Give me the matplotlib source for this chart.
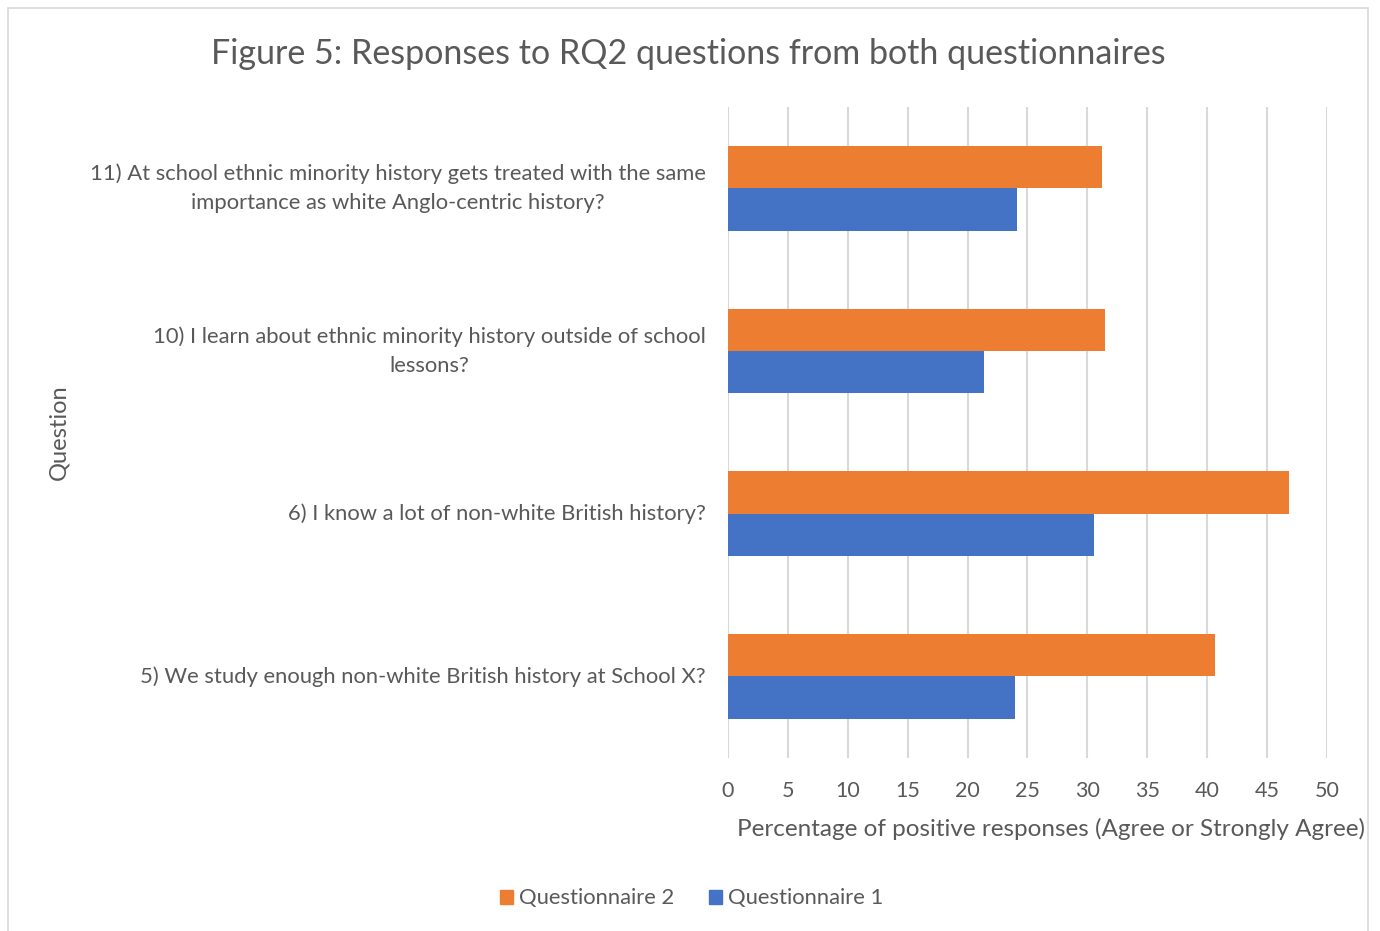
import matplotlib
matplotlib.use('Agg')
import matplotlib.pyplot as plt
from matplotlib.patches import Rectangle, Patch
import numpy as np

plt.rcParams['font.family'] = ['Lato', 'DejaVu Sans']

questions = ['5) We study enough non-white British history at School X?',
             '6) I know a lot of non-white British history?',
             '10) I learn about ethnic minority history outside of school\nlessons?',
             '11) At school ethnic minority history gets treated with the same\nimportance as white Anglo-centric history?']
q2_values = [40.65, 46.8, 31.5, 31.2]
q1_values = [24.0, 30.55, 21.4, 24.1]
ticks = [0, 5, 10, 15, 20, 25, 30, 35, 40, 45, 50]

orange = '#ED7D31'
blue = '#4472C4'
grey_text = '#595959'

fig = plt.figure(figsize=(13.8, 9.31), dpi=100)
ax = fig.add_axes([0.5275, 0.186, 0.4341, 0.699])

y = np.arange(len(questions))
h = 0.26
ax.barh(y + h / 2, q2_values, height=h, color=orange, label='Questionnaire 2', zorder=3)
ax.barh(y - h / 2, q1_values, height=h, color=blue, label='Questionnaire 1', zorder=3)

ax.set_xlim(0, 50)
ax.set_ylim(-0.5, 3.5)
ax.set_xticks(ticks)
ax.xaxis.grid(True, color='#D9D9D9', linewidth=1.5, zorder=0)
for s in ax.spines.values():
    s.set_visible(False)
ax.tick_params(axis='both', length=0)
ax.tick_params(axis='x', labelsize=15.5, labelcolor=grey_text, pad=17)
ax.set_yticks(y)
ax.set_yticklabels(questions, fontsize=15.8, color=grey_text, multialignment='center',
                   linespacing=1.55, va='center')
ax.tick_params(axis='y', pad=16)

fig.text(0.534, 0.11, 'Percentage of positive responses (Agree or Strongly Agree)',
         fontsize=17.5, color=grey_text, ha='left', va='center')
fig.text(0.043, 0.536, 'Question', fontsize=17, color=grey_text, rotation=90,
         ha='center', va='center')
fig.text(0.499, 0.942, 'Figure 5: Responses to RQ2 questions from both questionnaires',
         fontsize=24.5, color=grey_text, ha='center', va='center')

handles = [Patch(color=orange, label='Questionnaire 2'), Patch(color=blue, label='Questionnaire 1')]
fig.legend(handles=handles, loc='center', bbox_to_anchor=(0.501, 0.035), ncol=2, frameon=False,
           fontsize=15.8, labelcolor=grey_text, handlelength=0.6, handleheight=0.6,
           handletextpad=0.25, columnspacing=1.6)

fig.patches.append(Rectangle((0.0058, -0.01), 0.9855, 1.0014, transform=fig.transFigure,
                             fill=False, edgecolor='#D9D9D9', linewidth=1.2))

fig.savefig('out.png', dpi=100)
